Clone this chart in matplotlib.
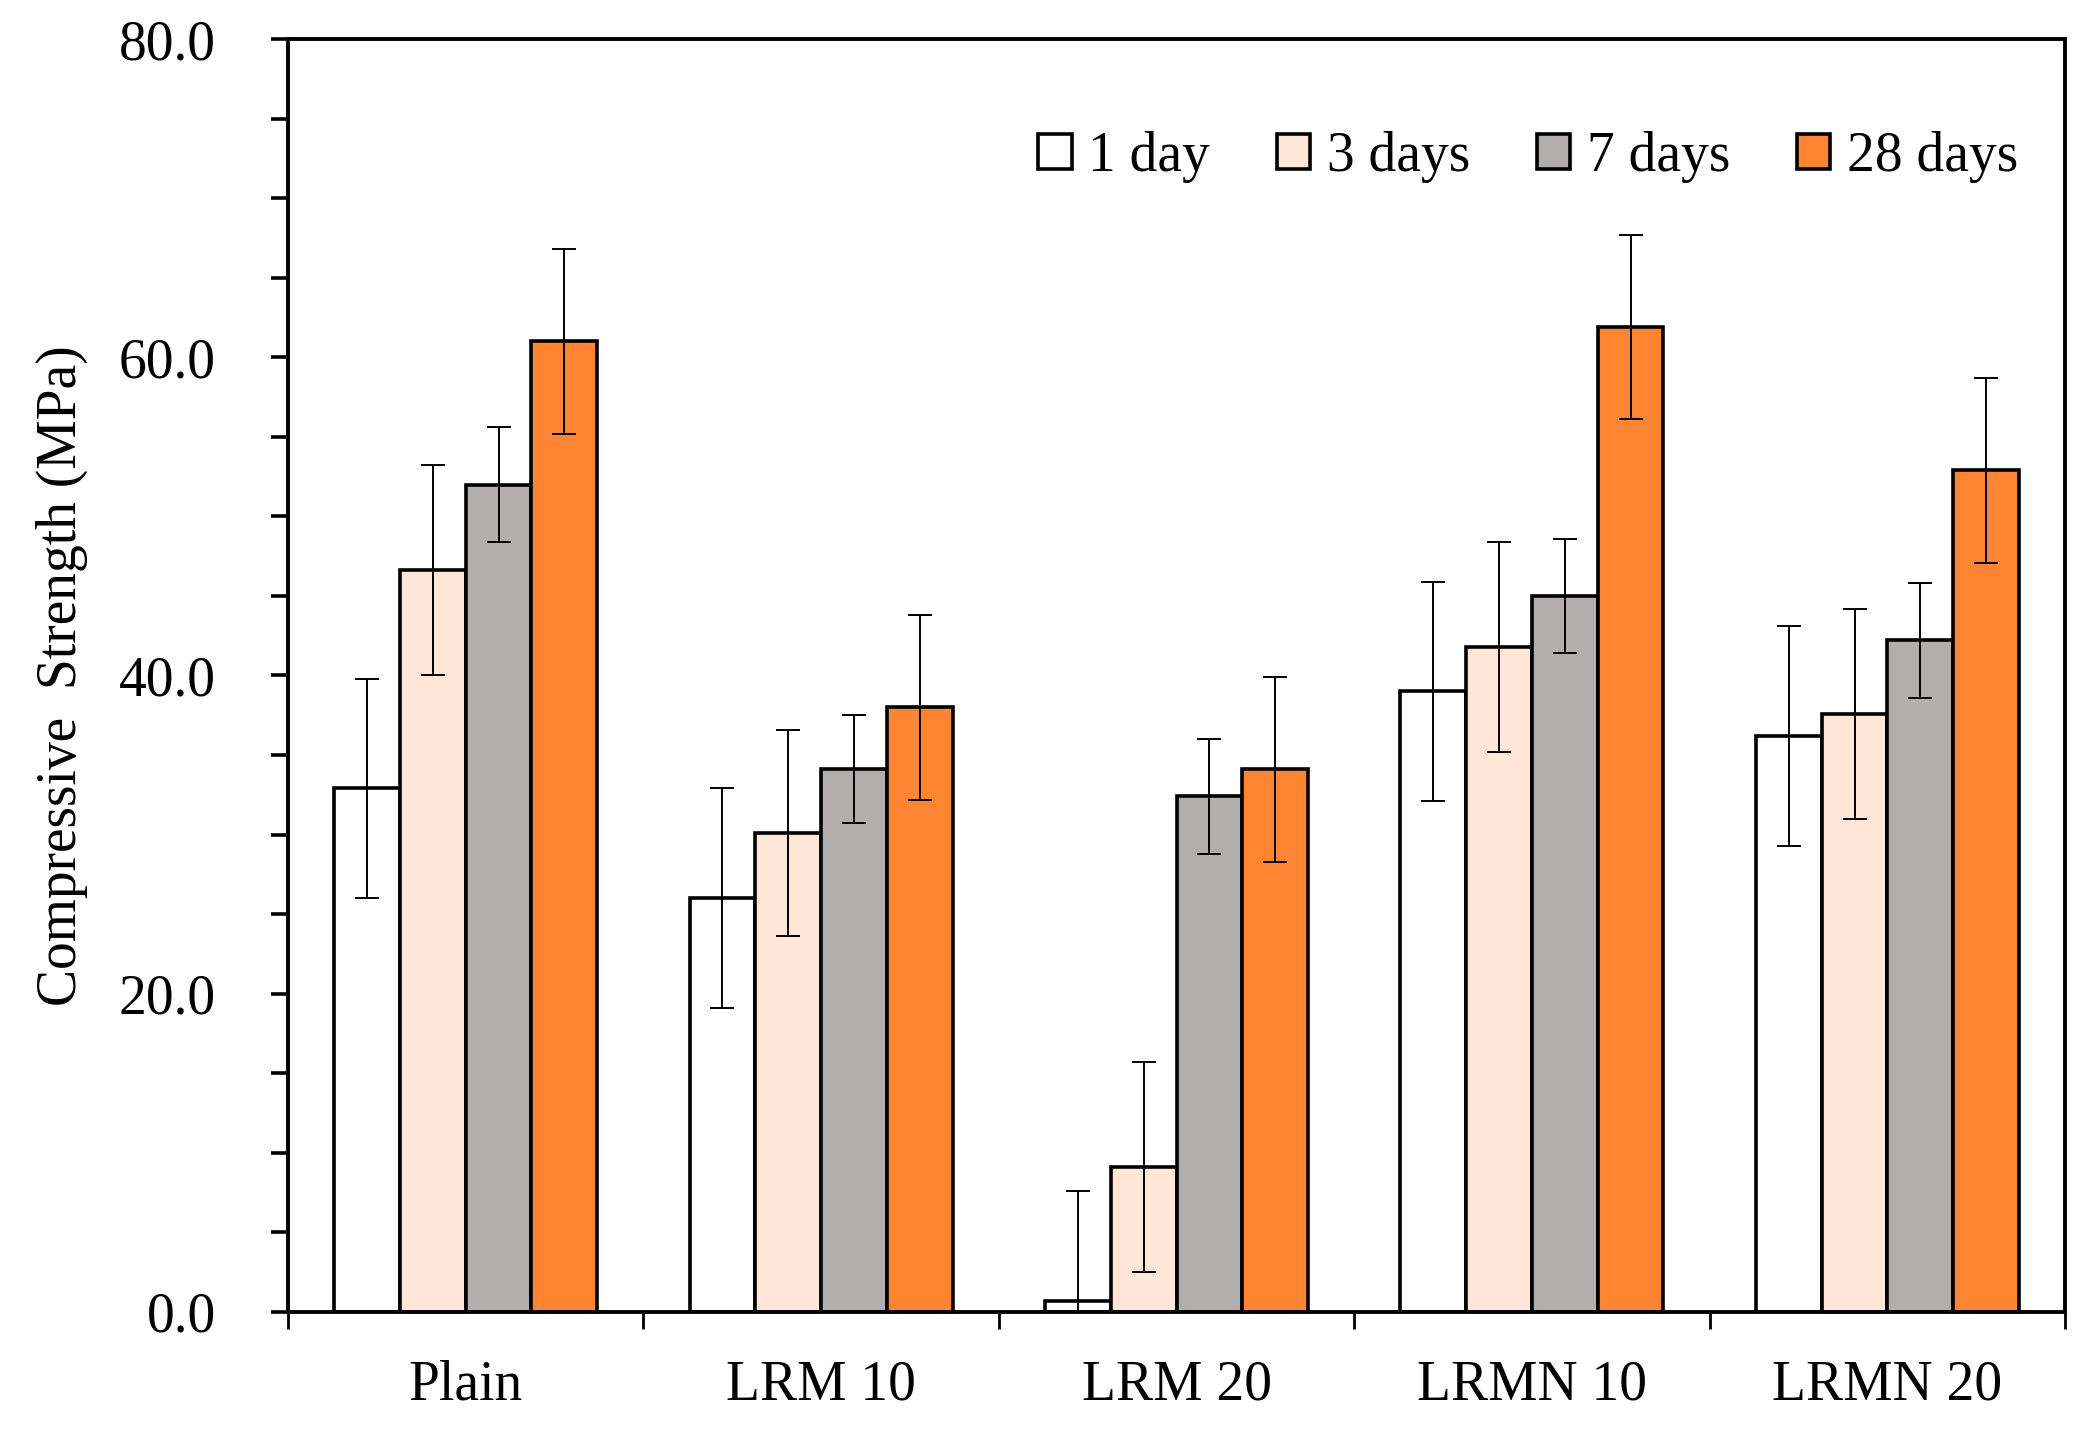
import matplotlib
matplotlib.use("Agg")
import matplotlib.pyplot as plt
import numpy as np

plt.rcParams['font.family'] = ['Liberation Serif', 'DejaVu Serif']

# dados
misturas = ['Plain', 'LRM 10', 'LRM 20', 'LRMN 10', 'LRMN 20']
idades = ['1 day', '3 days', '7 days', '28 days']

dia1 = [32.9, 26.0, 0.7, 39.0, 36.2]
dia3 = [46.6, 30.1, 9.1, 41.8, 37.6]
dia7 = [52.0, 34.1, 32.4, 45.0, 42.2]
dia28 = [61.0, 38.0, 34.1, 61.9, 52.9]

erro1 = [6.9, 6.9, 6.9, 6.9, 6.9]
erro3 = [6.6, 6.5, 6.6, 6.6, 6.6]
erro7 = [3.6, 3.4, 3.6, 3.6, 3.6]
erro28 = [5.8, 5.8, 5.8, 5.8, 5.8]

cores = ['#FFFFFF', '#FFE6D6', '#B2AEAD', '#FF8533']

valores = [dia1, dia3, dia7, dia28]
erros = [erro1, erro3, erro7, erro28]

fig = plt.figure(figsize=(20.94, 14.36), dpi=100)
ax = fig.add_axes([0.1375, 0.0864, 0.8487, 0.8864])

x = np.arange(len(misturas))
largura = 0.185

for i in range(4):
    pos = x + (i - 1.5) * largura
    ax.bar(pos, valores[i], largura, color=cores[i], edgecolor='black',
           linewidth=2.6, label=idades[i], zorder=2)
    ax.errorbar(pos, valores[i], yerr=erros[i], fmt='none', ecolor='black',
                elinewidth=1.4, capsize=8.5, capthick=1.4, zorder=3)

ax.set_xlim(-0.5, 4.5)
ax.set_ylim(0, 80)

ax.set_yticks(np.arange(0, 81, 20))
ax.set_yticklabels(['%.1f' % v for v in np.arange(0, 81, 20)])
ax.set_yticks(np.arange(0, 81, 5), minor=True)
ax.set_xticks(np.arange(-0.5, 4.6, 1))
ax.set_xticklabels([])
ax.set_xticks(x, minor=True)
ax.set_xticklabels(misturas, minor=True)

ax.tick_params(axis='y', which='both', direction='out', length=12, width=2.6,
               labelsize=40, pad=40)
ax.tick_params(axis='x', which='major', direction='out', length=12, width=2.0)
ax.tick_params(axis='x', which='minor', length=0, labelsize=40, pad=34)

for lado in ['left', 'right', 'top', 'bottom']:
    ax.spines[lado].set_linewidth(2.8)

ax.set_ylabel('Compressive  Strength (MPa)', fontsize=40, labelpad=22)

ax.legend(loc='center right', bbox_to_anchor=(0.9735, 0.907), ncol=4,
          frameon=False, fontsize=40, handlelength=0.6, handleheight=0.6,
          handletextpad=0.3, columnspacing=1.2, borderpad=0, borderaxespad=0)

plt.savefig('out.png', dpi=100)
